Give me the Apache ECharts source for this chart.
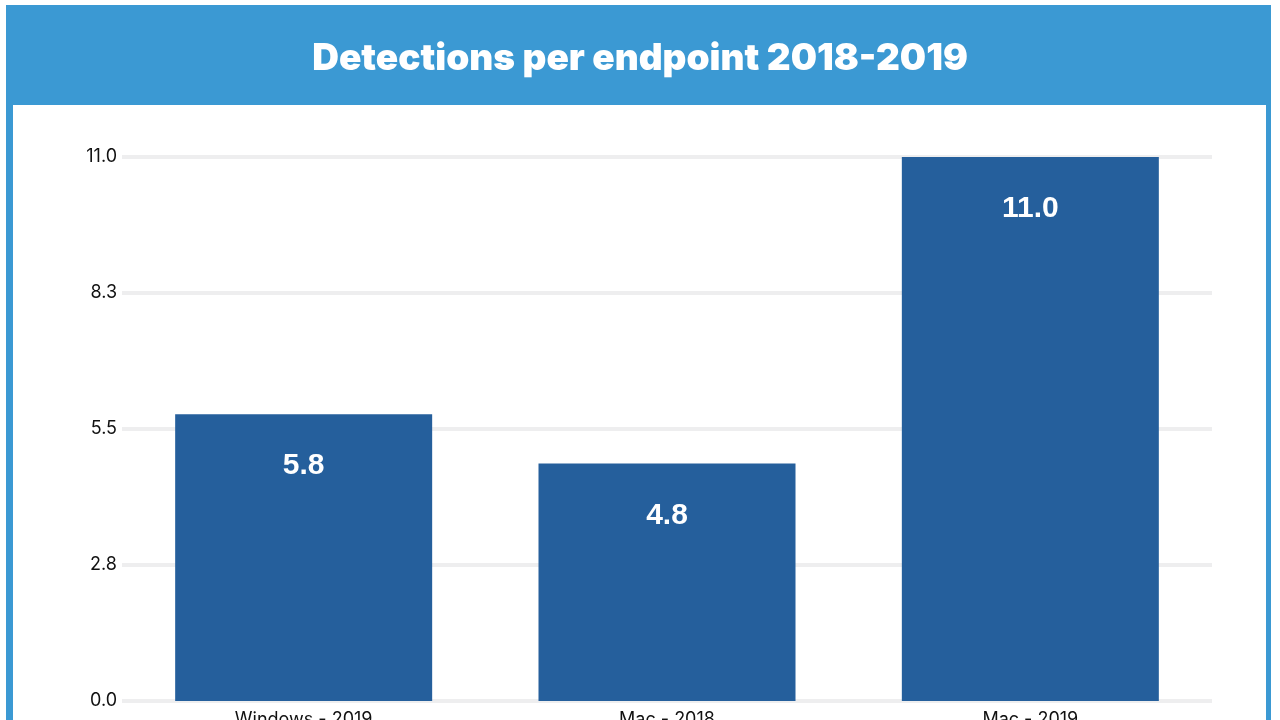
<!DOCTYPE html>
<html><head><meta charset="utf-8">
<script src="https://cdn.jsdelivr.net/npm/echarts@6/dist/echarts.min.js"></script>
<style>html,body{margin:0;padding:0;background:#fff}#c{width:1280px;height:720px}</style>
</head><body><div id="c"></div>
<script>
const categories = ['Windows - 2019', 'Mac - 2018', 'Mac - 2019'];
const values = [5.8, 4.8, 11.0];
const titleText = 'Detections per endpoint 2018-2019';

const chart = echarts.init(document.getElementById('c'));
chart.setOption({
  backgroundColor: '#ffffff',
  animation: false,
  graphic: [
    { type: 'rect', z: -10, shape: { x: 6, y: 5, width: 1265, height: 730 }, style: { fill: '#3b99d3' } },
    { type: 'rect', z: -9, shape: { x: 13, y: 105, width: 1253, height: 630 }, style: { fill: '#ffffff' } }
  ],
  title: {
    text: titleText, left: 'center', top: 35,
    textStyle: { color: '#ffffff', fontFamily: 'Inter', fontWeight: 900, fontSize: 37 }
  },
  grid: { left: 122, width: 1090, top: 157, height: 544, outerBoundsMode: 'none', containLabel: false },
  xAxis: {
    type: 'category', data: categories,
    axisLine: { show: false }, axisTick: { show: false },
    axisLabel: { color: '#111', fontFamily: 'Inter', fontSize: 18, margin: 10 }
  },
  yAxis: {
    type: 'value', min: 0, max: 11, interval: 2.75,
    axisLabel: { color: '#111', fontFamily: 'Inter', fontSize: 18, margin: 5,
      formatter: v => v.toFixed(1) },
    axisLine: { show: false }, axisTick: { show: false },
    splitLine: { lineStyle: { color: '#eeeeef', width: 4 } }
  },
  series: [{
    type: 'bar', data: values, barWidth: 257,
    itemStyle: { color: '#255f9c' },
    label: { show: true, position: 'insideTop', distance: 37, color: '#fff',
      fontFamily: 'Liberation Sans', fontWeight: 700, fontSize: 30, formatter: p => p.value.toFixed(1) }
  }]
});
</script></body></html>
